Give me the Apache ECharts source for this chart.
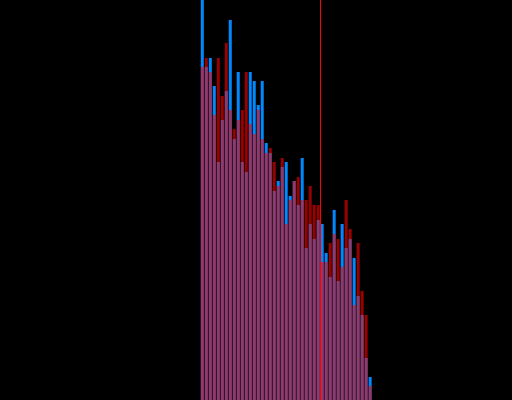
<!DOCTYPE html>
<html>
<head>
<meta charset="utf-8">
<script src="https://cdn.jsdelivr.net/npm/echarts@6/dist/echarts.min.js"></script>
<style>
  html, body { margin: 0; padding: 0; background: #000; }
  #chart { width: 512px; height: 400px; }
</style>
</head>
<body>
<div id="chart"></div>
<script>
// bin centres on the x axis
const binCenters = [50.5, 51.5, 52.5, 53.5, 54.5, 55.5, 56.5, 57.5, 58.5, 59.5,
  60.5, 61.5, 62.5, 63.5, 64.5, 65.5, 66.5, 67.5, 68.5, 69.5,
  70.5, 71.5, 72.5, 73.5, 74.5, 75.5, 76.5, 77.5, 78.5, 79.5,
  80.5, 81.5, 82.5, 83.5, 84.5, 85.5, 86.5, 87.5, 88.5, 89.5,
  90.5, 91.5, 92.5]
// counts, blue series
const blueCounts = [400, 333, 342, 314, 238, 280, 309, 380, 261, 328,
  238, 228, 328, 319, 295, 319, 257, 247, 209, 219,
  233, 238, 204, 219, 195, 242, 152, 176, 161, 180,
  176, 147, 123, 190, 119, 176, 152, 161, 142, 104,
  85, 42, 23]
// counts, red series
const redCounts = [333, 342, 328, 285, 342, 304, 357, 290, 271, 280,
  290, 328, 276, 266, 290, 261, 247, 252, 238, 214,
  242, 176, 200, 219, 223, 200, 200, 214, 195, 195,
  138, 138, 157, 166, 161, 133, 200, 171, 95, 157,
  109, 85, 14]
// vertical marker
const markerX = 80

const chart = echarts.init(document.getElementById('chart'))

const option = {
  backgroundColor: '#000',
  animation: false,
  grid: { left: 0.5, width: 512, top: 0, bottom: 0, containLabel: false },
  xAxis: {
    type: 'value',
    min: 0,
    max: 128,
    show: false
  },
  yAxis: {
    type: 'value',
    min: 0,
    max: 400,
    show: false
  },
  series: [
    {
      type: 'bar',
      data: binCenters.map((x, i) => [x, blueCounts[i]]),
      barWidth: 3,
      barGap: '-100%',
      itemStyle: { color: '#0088ff' }
    },
    {
      type: 'bar',
      data: binCenters.map((x, i) => [x, redCounts[i]]),
      barWidth: 3,
      barGap: '-100%',
      itemStyle: { color: 'rgba(255,0,0,0.6)' },
      markLine: {
        silent: true,
        symbol: 'none',
        label: { show: false },
        lineStyle: { color: '#ff0000', width: 1, type: 'solid' },
        data: [{ xAxis: markerX }]
      }
    }
  ]
}

chart.setOption(option)
</script>
</body>
</html>
